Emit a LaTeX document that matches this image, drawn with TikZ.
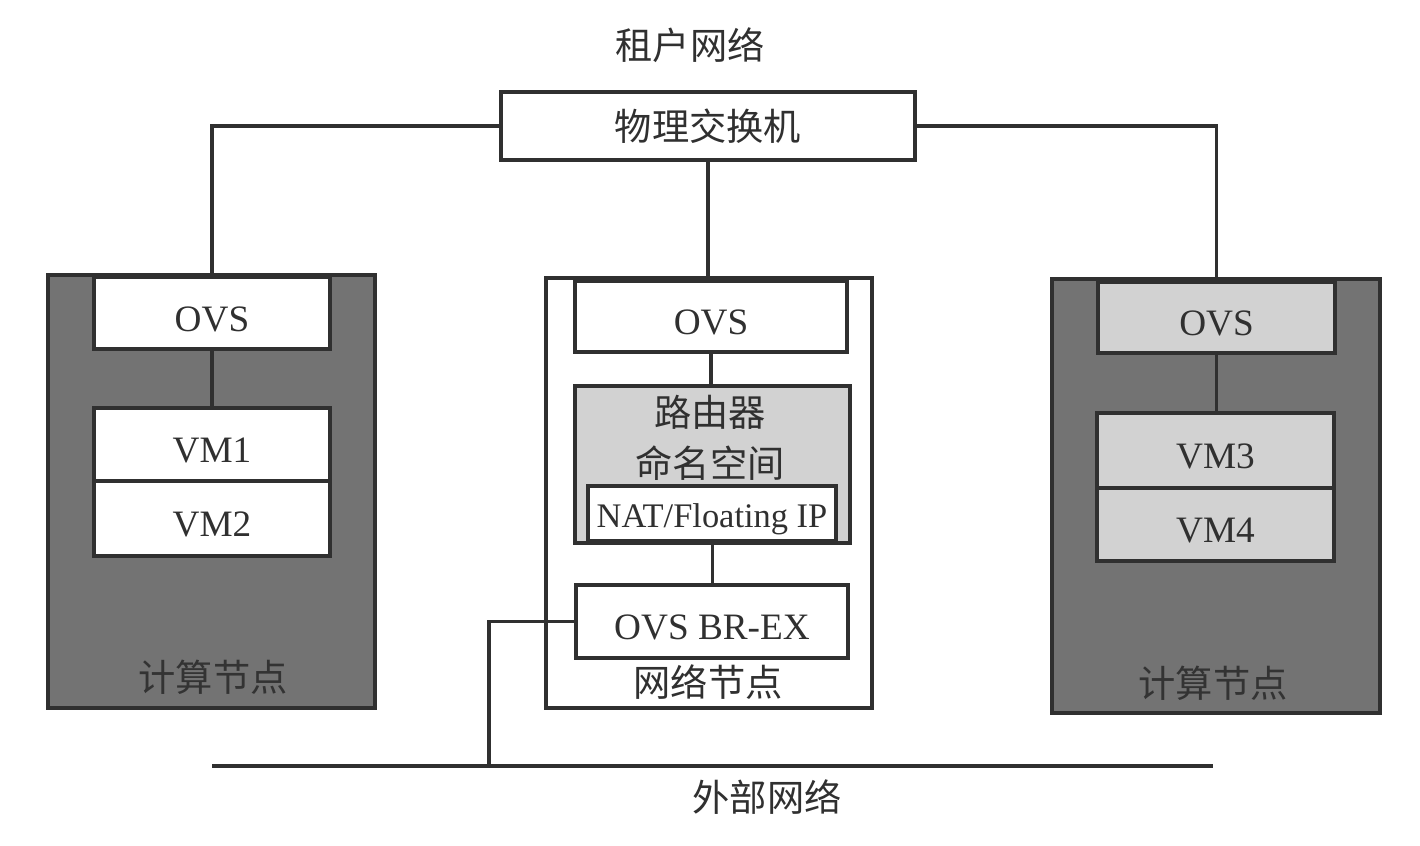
\documentclass[tikz,border=0pt]{standalone}
\usepackage{fontspec}
\setmainfont{Liberation Serif}
\newfontfamily\cjk{Noto Sans CJK SC}
\definecolor{darkfill}{HTML}{737373}
\definecolor{lightfill}{HTML}{D2D2D2}
\definecolor{ink}{HTML}{303030}
\begin{document}
\begin{tikzpicture}[x=0.1mm,y=-0.1mm,
  every node/.style={inner sep=0pt, outer sep=0pt, text=ink, font=\fontsize{10.6pt}{12pt}\selectfont},
  box/.style={draw=ink, line width=1pt, fill=white, anchor=center},
  lt/.style={text height=10.4pt, text depth=0pt},
  wire/.style={draw=ink, line width=1pt},
  cn/.style={font=\cjk\fontsize{10.6pt}{12pt}\selectfont}]
\path[fill=white] (0,0) rectangle (1420,845);
\useasboundingbox (0,0) rectangle (1420,845);

% top
\node[cn] (tenant) at (690,45) {租户网络};
\node[box, cn, minimum width=41.4mm, minimum height=6.8mm] (sw) at (708,126) {物理交换机};

% left compute node
\node[box, fill=darkfill, minimum width=32.7mm, minimum height=43.3mm] (lnode) at (211.5,491.5) {};
\node[box, lt, minimum width=23.6mm, minimum height=7.2mm] (lovs) at (212,313) {OVS};
\node[box, lt, minimum width=23.6mm, minimum height=7.3mm] (vm1) at (212,444.5) {VM1};
\node[box, lt, minimum width=23.6mm, minimum height=7.5mm] (vm2) at (212,518.5) {VM2};
\node[cn, text=black!80] (llab) at (213,677) {计算节点};

% middle network node
\node[box, minimum width=32.6mm, minimum height=43.0mm] (mnode) at (709,493) {};
\node[box, lt, minimum width=27.2mm, minimum height=7.1mm] (movs) at (711,316.5) {OVS};
\node[box, fill=lightfill, minimum width=27.5mm, minimum height=15.7mm] (router) at (712.5,464.5) {};
\node[cn] (rtext1) at (710,412) {路由器};
\node[cn] (rtext2) at (710,463) {命名空间};
\node[box, text height=8.2pt, text depth=0pt, font=\fontsize{9.8pt}{11pt}\selectfont, minimum width=24.8mm, minimum height=5.5mm] (nat) at (712,513.5) {NAT/Floating IP};
\node[box, lt, minimum width=27.2mm, minimum height=7.3mm] (brex) at (712,621.5) {OVS BR-EX};
\node[cn] (mlab) at (708,682) {网络节点};

% right compute node
\node[box, fill=darkfill, minimum width=32.8mm, minimum height=43.4mm] (rnode) at (1216,496) {};
\node[box, lt, fill=lightfill, minimum width=23.7mm, minimum height=7.1mm] (rovs) at (1216.5,317.5) {OVS};
\node[box, lt, fill=lightfill, minimum width=23.7mm, minimum height=7.5mm] (vm3) at (1215.5,450.5) {VM3};
\node[box, lt, fill=lightfill, minimum width=23.7mm, minimum height=7.3mm] (vm4) at (1215.5,524.5) {VM4};
\node[cn, text=black!80] (rlab) at (1213,683) {计算节点};

% external network
\coordinate (extL) at (212,766);
\coordinate (extR) at (1213,766);
\coordinate (tap) at (489,766);
\node[cn] (ext) at (767,797) {外部网络};

% connectors
\draw[wire] (sw.west) -| (lnode.north -| lovs.north);
\draw[wire] (sw.east) -| (rnode.north -| rovs.north);
\draw[wire] (sw.south) -- (sw.south |- mnode.north);
\draw[wire] (lovs.south) -- (lovs.south |- vm1.north);
\draw[wire] (rovs.south) -- (rovs.south |- vm3.north);
\draw[wire] (movs.south) -- (movs.south |- router.north);
\draw[wire] (router.south) -- (router.south |- brex.north);
\draw[wire] (brex.west) -| (tap);
\draw[wire] (extL) -- (extR);
\end{tikzpicture}
\end{document}
